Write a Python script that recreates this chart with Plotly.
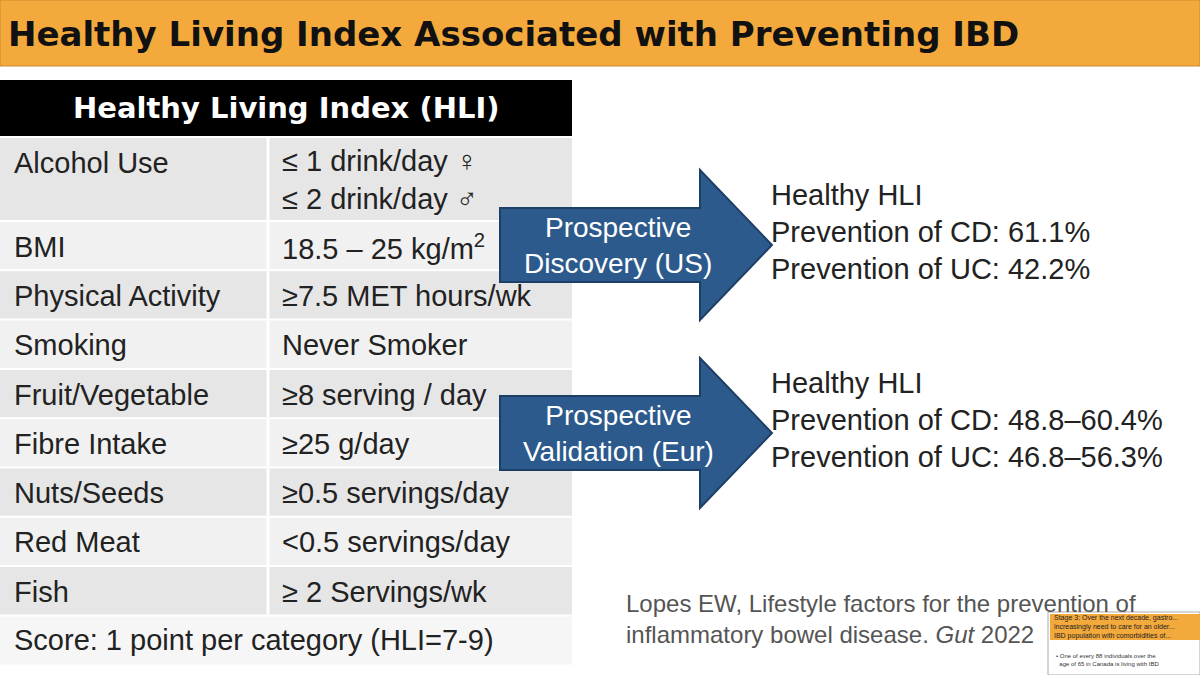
import plotly.graph_objects as go

title = "Healthy Living Index Associated with Preventing IBD"
table_header = "Healthy Living Index (HLI)"
categories = ["Alcohol Use", "BMI", "Physical Activity", "Smoking", "Fruit/Vegetable",
              "Fibre Intake", "Nuts/Seeds", "Red Meat", "Fish"]
criteria = ["≤ 1 drink/day ♀<br>≤ 2 drink/day ♂", "18.5 – 25 kg/m<sup>2</sup>",
            "≥7.5 MET hours/wk", "Never Smoker", "≥8 serving / day", "≥25 g/day",
            "≥0.5 servings/day", "<0.5 servings/day", "≥ 2 Servings/wk"]
score_note = "Score: 1 point per category (HLI=7-9)"
arrow_labels = ["Prospective<br>Discovery (US)", "Prospective<br>Validation (Eur)"]
results = [["Healthy HLI", "Prevention of CD: 61.1%", "Prevention of UC: 42.2%"],
           ["Healthy HLI", "Prevention of CD: 48.8–60.4%", "Prevention of UC: 46.8–56.3%"]]
citation = ["Lopes EW, Lifestyle factors for the prevention of",
            "inflammatory bowel disease. <i>Gut</i> 2022"]

FONT = "Liberation Sans, Arial, sans-serif"
BOLD_FONT = "DejaVu Sans, Verdana, sans-serif"
shapes, ann = [], []

def text(x, y, s, size=29, color="#222", anchor="left", bold=False, family=FONT):
    ann.append(dict(x=x, y=y, text=f"<b>{s}</b>" if bold else s, showarrow=False,
                    xanchor=anchor, yanchor="middle", align=anchor,
                    font=dict(family=family, size=size, color=color)))

# title bar
shapes.append(dict(type="rect", x0=0, x1=1200, y0=0, y1=66, fillcolor="#f4a93c",
                   line=dict(color="#c98a2a", width=1), layer="below"))
text(6, 34, title, size=34, color="#111", bold=True, family=BOLD_FONT)

# table header
shapes.append(dict(type="rect", x0=0, x1=572, y0=80, y1=136, fillcolor="#000", line_width=0))
text(286, 108, table_header, size=29, color="white", anchor="center", bold=True, family=BOLD_FONT)

row_h = [84] + [49.3] * 8
y = 138
for i, (c, v) in enumerate(zip(categories, criteria)):
    h = row_h[i]
    fill = "#e6e6e6" if i % 2 == 0 else "#f1f1f1"
    shapes.append(dict(type="rect", x0=0, x1=572, y0=y, y1=y + h - 2, fillcolor=fill, line_width=0, layer="below"))
    shapes.append(dict(type="line", x0=268, x1=268, y0=y, y1=y + h - 2, line=dict(color="white", width=3)))
    text(12, y + h / 2 if i else y + 25, c)
    text(280, y + h / 2 if i else y + 42, v)
    y += h
shapes.append(dict(type="rect", x0=0, x1=572, y0=y, y1=y + 48, fillcolor="#f6f6f6", line_width=0, layer="below"))
text(12, y + 24, score_note)

# arrows and results
for k, (lab, res) in enumerate(zip(arrow_labels, results)):
    cy = 245 + k * 188
    path = (f"M 500 {cy-37} L 700 {cy-37} L 700 {cy-75} L 772 {cy} L 700 {cy+75} "
            f"L 700 {cy+37} L 500 {cy+37} Z")
    shapes.append(dict(type="path", path=path, fillcolor="#2d5a8c", line=dict(color="#1d3f66", width=2)))
    text(618, cy, lab, size=28, color="white", anchor="center")
    for j, s in enumerate(res):
        text(769, cy - 50 + j * 37, s, size=29)

text(624, 603, citation[0], size=24, color="#555")
text(624, 634, citation[1], size=24, color="#555")

# small inset thumbnail
shapes.append(dict(type="rect", x0=1048, x1=1200, y0=612, y1=675, fillcolor="white",
                   line=dict(color="#aaa", width=1)))
shapes.append(dict(type="rect", x0=1050, x1=1200, y0=614, y1=640, fillcolor="#f4a93c", line_width=0))
text(1052, 627, "Stage 3: Over the next decade, gastro...<br>increasingly need to care for an older...<br>IBD population with comorbidities of...",
     size=7, color="#222")
text(1054, 660, "• One of every 88 individuals over the<br>  age of 65 in Canada is living with IBD", size=6, color="#333")

fig = go.Figure()
fig.update_layout(width=1200, height=675, margin=dict(l=0, r=0, t=0, b=0),
                  plot_bgcolor="white", paper_bgcolor="white", shapes=shapes, annotations=ann,
                  xaxis=dict(range=[0, 1200], visible=False, fixedrange=True),
                  yaxis=dict(range=[675, 0], visible=False, fixedrange=True),
                  showlegend=False)
fig.write_html("out.html", config={"displayModeBar": False},
               post_script="document.body.style.margin='0';document.body.style.overflow='hidden';")
